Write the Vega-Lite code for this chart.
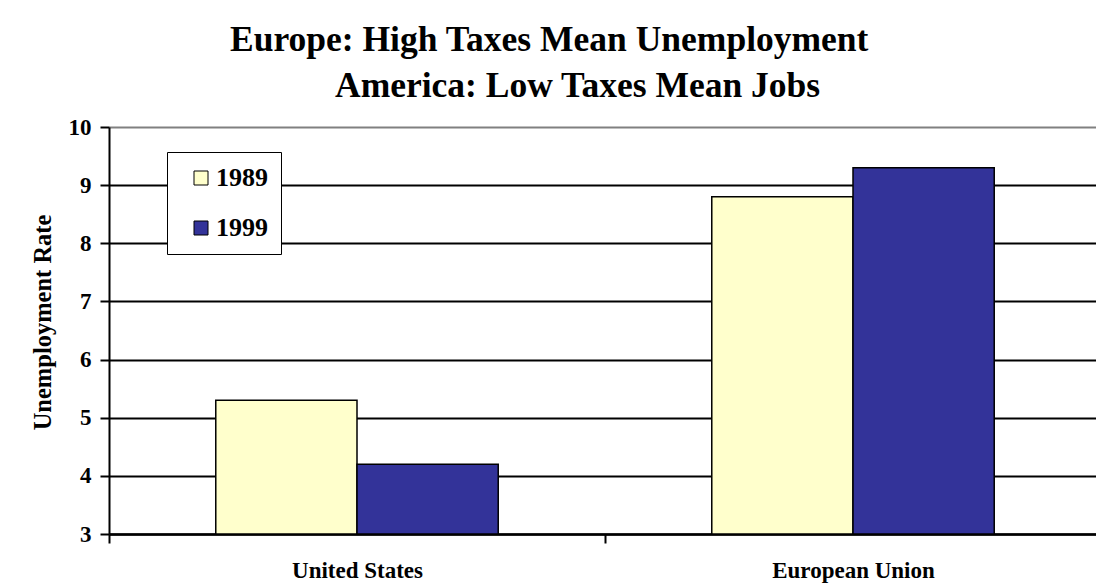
{
  "$schema": "https://vega.github.io/schema/vega-lite/v6.json",
  "autosize": "none",
  "padding": {"left": 109, "top": 127, "right": 987, "bottom": 459},
  "background": "white",
  "title": {
    "text": "Europe: High Taxes Mean Unemployment",
    "font": "Liberation Serif",
    "fontSize": 35.5,
    "fontWeight": "bold",
    "color": "black",
    "anchor": "start",
    "frame": "group",
    "dx": 121,
    "offset": 10
  },
  "vconcat": [
    {
      "width": 992,
      "height": 407,
      "title": {
        "text": "America: Low Taxes Mean Jobs",
        "font": "Liberation Serif",
        "fontSize": 35.5,
        "fontWeight": "bold",
        "color": "black",
        "anchor": "start",
        "frame": "group",
        "dx": 226,
        "offset": 12
      },
      "data": {
        "values": [
          {"region": "United States", "year": "1989", "rate": 5.3},
          {"region": "United States", "year": "1999", "rate": 4.2},
          {"region": "European Union", "year": "1989", "rate": 8.8},
          {"region": "European Union", "year": "1999", "rate": 9.3}
        ]
      },
      "mark": {"type": "bar", "stroke": "black", "strokeWidth": 1.5},
      "encoding": {
        "x": {
          "field": "region",
          "type": "nominal",
          "sort": ["United States", "European Union"],
          "scale": {"paddingInner": 0, "paddingOuter": 0},
          "axis": {
            "title": null,
            "labelAngle": 0,
            "labelFont": "Liberation Serif",
            "labelFontSize": 23,
            "labelFontWeight": "bold",
            "labelColor": "black",
            "labelPadding": 16,
            "tickBand": "extent",
            "tickSize": 9,
            "tickWidth": 2,
            "tickColor": "black",
            "domainColor": "black",
            "domainWidth": 2.5,
            "grid": false
          }
        },
        "xOffset": {
          "field": "year",
          "type": "nominal",
          "scale": {"paddingOuter": 0.756, "paddingInner": 0}
        },
        "y": {
          "field": "rate",
          "type": "quantitative",
          "scale": {"domain": [3, 10], "zero": false, "nice": false},
          "axis": {
            "title": "Unemployment Rate",
            "titleFont": "Liberation Serif",
            "titleFontSize": 24.5,
            "titleFontWeight": "bold",
            "titleColor": "black",
            "titlePadding": 13,
            "titleY": 195,
            "values": [3, 4, 5, 6, 7, 8, 9, 10],
            "labelFont": "Liberation Serif",
            "labelFontSize": 23,
            "labelFontWeight": "bold",
            "labelColor": "black",
            "labelPadding": 9,
            "tickSize": 9,
            "tickWidth": 2,
            "tickColor": "black",
            "domainColor": "black",
            "domainWidth": 2,
            "grid": true,
            "gridWidth": 2,
            "gridColor": {"condition": {"test": "datum.value === 10", "value": "#808080"}, "value": "black"}
          }
        },
        "y2": {"datum": 3},
        "color": {
          "field": "year",
          "type": "nominal",
          "scale": {"domain": ["1989", "1999"], "range": ["#FFFFCC", "#333399"]},
          "legend": {
            "title": null,
            "orient": "none",
            "legendX": 58,
            "legendY": 25,
            "strokeColor": "black",
            "fillColor": "white",
            "padding": 13,
            "rowPadding": 24,
            "symbolType": "square",
            "symbolSize": 196,
            "symbolStrokeColor": "black",
            "symbolStrokeWidth": 1,
            "symbolOffset": 8,
            "labelOffset": 2,
            "labelFont": "Liberation Serif",
            "labelFontSize": 26,
            "labelFontWeight": "bold",
            "labelColor": "black"
          }
        }
      }
    }
  ],
  "config": {
    "view": {"stroke": null}
  }
}
